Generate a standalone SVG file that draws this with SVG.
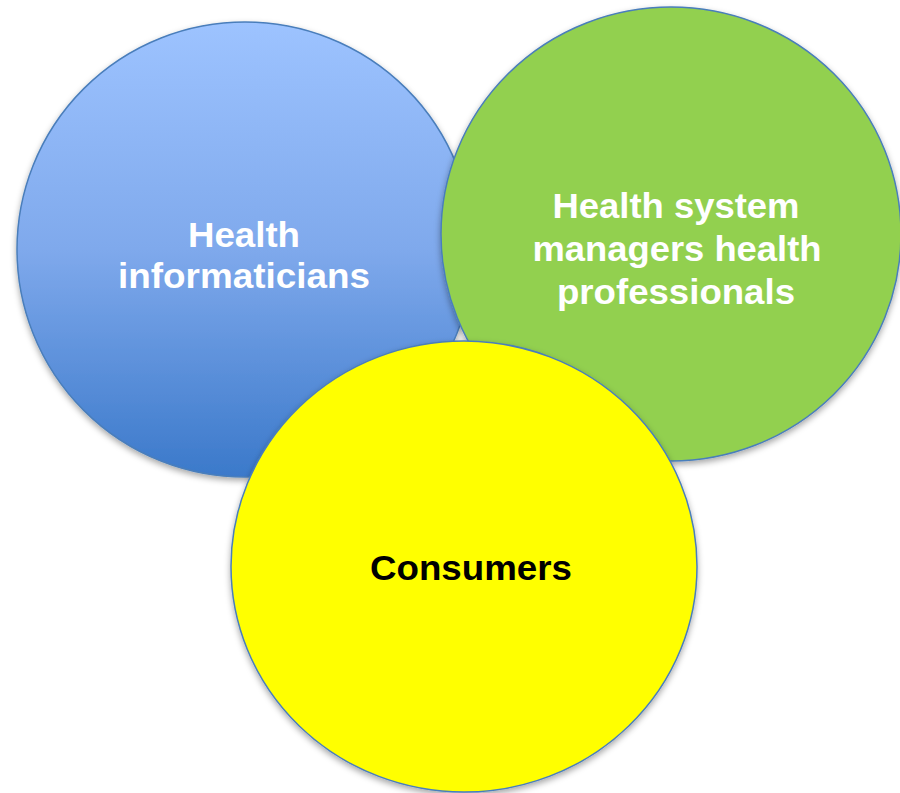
<svg xmlns="http://www.w3.org/2000/svg" width="900" height="793" viewBox="0 0 900 793">
<defs>
<linearGradient id="blueGrad" x1="0" y1="0" x2="0" y2="1">
<stop offset="0" stop-color="#9DC3FF"/>
<stop offset="0.5" stop-color="#7FA9EC"/>
<stop offset="1" stop-color="#3B79CA"/>
</linearGradient>
<filter id="shadow" x="-10%" y="-10%" width="120%" height="125%">
<feDropShadow dx="0" dy="3" stdDeviation="3" flood-color="#000" flood-opacity="0.35"/>
</filter>
</defs>
<style>
.circle { stroke: #4A7EBB; stroke-width: 1.5; filter: url(#shadow); }
.label { font-family: "Liberation Sans", Arial, sans-serif; font-weight: bold; font-size: 35.5px; text-anchor: middle; }
.white { fill: #FFFFFF; }
.black { fill: #000000; }
</style>
<rect width="900" height="793" fill="#FFFFFF"/>
<g id="connectors"></g>
<g id="node-informaticians">
<ellipse class="circle" cx="245" cy="249.5" rx="228" ry="227.5" fill="url(#blueGrad)"/>
<text class="label white" x="244" y="247" textLength="112" lengthAdjust="spacingAndGlyphs">Health</text>
<text class="label white" x="244" y="288" textLength="252" lengthAdjust="spacingAndGlyphs">informaticians</text>
</g>
<g id="node-managers">
<ellipse class="circle" cx="671" cy="234" rx="230" ry="227" fill="#92D050"/>
<text class="label white" x="676" y="218" textLength="247" lengthAdjust="spacingAndGlyphs">Health system</text>
<text class="label white" x="677" y="261" textLength="289" lengthAdjust="spacingAndGlyphs">managers health</text>
<text class="label white" x="676" y="304" textLength="238" lengthAdjust="spacingAndGlyphs">professionals</text>
</g>
<g id="node-consumers">
<ellipse class="circle" cx="464" cy="566.5" rx="233" ry="225.5" fill="#FFFF00"/>
<text class="label black" x="471" y="580" textLength="202" lengthAdjust="spacingAndGlyphs">Consumers</text>
</g>
</svg>
